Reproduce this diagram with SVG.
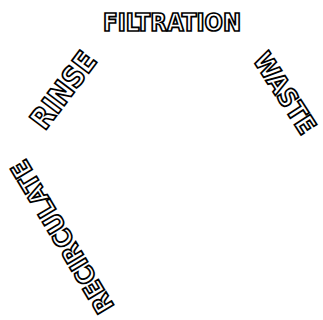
<svg xmlns="http://www.w3.org/2000/svg" width="323" height="320" viewBox="0 0 323 320">
<style>
.lbl{font-family:"DejaVu Sans Condensed","DejaVu Sans",sans-serif;font-stretch:condensed;font-weight:bold;font-size:24px;fill:#fff;stroke:#000;stroke-width:1.7;text-anchor:middle;}
</style>
<rect width="323" height="320" fill="#fff"/>
<g id="filtration"><text class="lbl" x="172" y="31">FILTRATION</text></g>
<g id="waste"><text class="lbl" style="font-size:26px" transform="translate(285,93) rotate(57)" x="0" y="9.4">WASTE</text></g>
<g id="rinse"><text class="lbl" style="font-size:29px" transform="translate(63,90) rotate(-53)" x="0" y="10.5">RINSE</text></g>
<g id="recirculate"><text class="lbl" style="font-size:25.5px" transform="translate(62,237) rotate(-121)" x="0" y="9.3">RECIRCULATE</text></g>
</svg>
